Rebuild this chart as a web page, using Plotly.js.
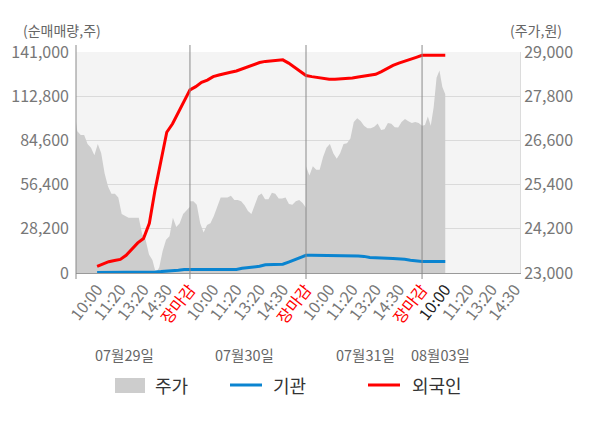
<!DOCTYPE html>
<html><head><meta charset="utf-8">
<script src="https://cdn.plot.ly/plotly-3.0.1.min.js"></script>
<style>html,body{margin:0;padding:0;background:#fff}#chart{width:600px;height:428px}</style>
</head><body><div id="chart"></div>
<script>
// ---- data ----
const dayLabels = ['07월29일', '07월30일', '07월31일', '08월03일'];
const timeLabels = ['10:00', '11:20', '13:20', '14:30', '장마감'];
const lastDayLabels = ['10:00', '11:20', '13:20', '14:30'];

// 주가 (원), evenly sampled through each session
const price0729 = [27500, 26850, 26750, 26750, 26500, 26400, 26200, 26500, 26250, 25700, 25350, 25150, 25150, 25050, 24600, 24550, 24500, 24500, 24500, 24500, 24050, 23900, 23500, 23350, 23000, 23150, 23600, 23900, 24000, 24500, 24250, 24350, 24600, 24700, 24800];
const price0730 = [24950, 24950, 24850, 24350, 24100, 24300, 24350, 24550, 24800, 25050, 25050, 25050, 25100, 24980, 24980, 24950, 24840, 24680, 24600, 24850, 25100, 25160, 25000, 25000, 25180, 25150, 25020, 25020, 25050, 24870, 24850, 24950, 24980, 24900, 24770];
const price0731 = [25900, 25650, 25900, 25800, 25800, 26150, 26400, 26500, 26250, 26100, 26250, 26500, 26520, 26650, 27100, 27200, 27130, 27000, 26930, 26930, 26970, 27060, 26880, 26900, 27070, 27050, 26960, 26950, 27100, 27180, 27120, 27070, 27100, 27070, 27000];
const price0803 = [27000, 27020, 27250, 27000, 27500, 28300, 28500, 28050, 27850];

// 순매매량 (주), every quarter of a label step from 07/29 10:00 to 08/03 10:00
const foreignNet = [4200, 5900, 7200, 8000, 8700, 11300, 15600, 19200, 22000, 31700, 53200, 72600, 89800, 95200, 102700, 110200, 116800,
  118900, 121600, 123100, 125300, 126300, 127000, 128100, 128900, 130200, 131800, 132800, 134300, 135000, 135400, 135600, 136000, 133900, 131100, 128500, 126000,
  125300, 124700, 124200, 123600, 123600, 123800, 124200, 124400, 125100, 125700, 126400, 126800, 128500, 130700, 132400, 133900, 135000, 136000, 137600, 138900,
  138900, 138900, 138900, 138900];
const instNet = [300, 300, 300, 300, 300, 300, 300, 300, 300, 300, 700, 900, 1100, 1400, 1800, 2200, 2400,
  2300, 2300, 2300, 2300, 2300, 2300, 2300, 2300, 3000, 3300, 4000, 4300, 5300, 5500, 5500, 5600, 7000, 8300, 9800, 11300,
  11300, 11300, 11300, 11300, 11300, 11300, 11300, 11300, 10900, 10600, 9900, 9700, 9400, 9400, 9300, 9200, 8700, 8200, 7600, 7400,
  7400, 7400, 7400, 7400];

const volTicks = [0, 28200, 56400, 84600, 112800, 141000];
const priceTicks = [23000, 24200, 25400, 26600, 27800, 29000];

// ---- build ----
const STEPS = 5; // label steps per session
const priceDays = [price0729, price0730, price0731, price0803];
const priceSpans = [5, 5, 5, 1];
const px = [], py = [];
priceDays.forEach((arr, d) => {
  arr.forEach((v, i) => { px.push(d * STEPS + i * priceSpans[d] / (arr.length - 1)); py.push(v); });
});
const netX = foreignNet.map((_, i) => 1 + i * 0.25);

const tickvals = [], ticktext = [];
for (let d = 0; d < 3; d++) {
  timeLabels.forEach((t, i) => {
    tickvals.push(d * STEPS + i + 1);
    ticktext.push(t === '장마감' ? '<span style="color:#ff0000">' + t + '</span>' : t);
  });
}
lastDayLabels.forEach((t, i) => {
  tickvals.push(3 * STEPS + i + 1);
  ticktext.push(i === 0 ? '<span style="color:#222">' + t + '</span>' : t);
});
const fmt = v => v.toLocaleString('en-US');

const W = 600, H = 428, L = 76, R = 80, T = 52, B = 155;
const pw = W - L - R, ph = H - T - B;
const pxX = v => (v - L) / pw;
const pxY = v => (H - B - v) / ph;

const traces = [
  { x: px, y: py, type: 'scatter', mode: 'lines', fill: 'tozeroy', fillcolor: '#cdcdcd', line: { width: 0, color: '#cdcdcd' }, name: '주가', yaxis: 'y', hoverinfo: 'skip' },
  { x: netX, y: instNet, type: 'scatter', mode: 'lines', line: { width: 3, color: '#0a84d0' }, name: '기관', yaxis: 'y2', hoverinfo: 'skip' },
  { x: netX, y: foreignNet, type: 'scatter', mode: 'lines', line: { width: 3, color: '#ff0000' }, name: '외국인', yaxis: 'y2', hoverinfo: 'skip' }
];

const shapes = [];
[0, 1, 2, 3].forEach(k => {
  const base = k === 0 ? { xref: 'paper', x0: 0, x1: 0 } : { xref: 'x', x0: k * STEPS, x1: k * STEPS };
  shapes.push(Object.assign({ type: 'line', yref: 'paper', y0: pxY(279), y1: pxY(45), line: { color: '#8a8a8a', width: 1 }, layer: 'above' }, base));
});
// legend symbols
shapes.push({ type: 'rect', xref: 'paper', yref: 'paper', x0: pxX(115), x1: pxX(145), y0: pxY(393), y1: pxY(378), fillcolor: '#cdcdcd', line: { width: 0 } });
shapes.push({ type: 'line', xref: 'paper', yref: 'paper', x0: pxX(230), x1: pxX(262), y0: pxY(385), y1: pxY(385), line: { color: '#0a84d0', width: 3 } });
shapes.push({ type: 'line', xref: 'paper', yref: 'paper', x0: pxX(368), x1: pxX(400), y0: pxY(385), y1: pxY(385), line: { color: '#ff0000', width: 3 } });

const annotations = [
  { text: '(순매매량,주)', xref: 'paper', yref: 'paper', x: pxX(21), y: pxY(30), xanchor: 'left', yanchor: 'middle', showarrow: false, font: { size: 14, color: '#666' } },
  { text: '(주가,원)', xref: 'paper', yref: 'paper', x: pxX(508), y: pxY(30), xanchor: 'left', yanchor: 'middle', showarrow: false, font: { size: 14, color: '#666' } }
];
const dateLabelX = [2.2, 7.35, 12.55, 15.8];
dayLabels.forEach((t, i) => annotations.push({ text: t, xref: 'x', yref: 'paper', x: dateLabelX[i], y: pxY(354), xanchor: 'center', yanchor: 'middle', showarrow: false, font: { size: 14.5, color: '#666' } }));
[['주가', 153], ['기관', 271], ['외국인', 410]].forEach(([t, x]) => annotations.push({ text: t, xref: 'paper', yref: 'paper', x: pxX(x), y: pxY(385), xanchor: 'left', yanchor: 'middle', showarrow: false, font: { size: 18, color: '#333' } }));

const layout = {
  width: W, height: H,
  margin: { l: L, r: R, t: T, b: B, pad: 0 },
  paper_bgcolor: '#ffffff', plot_bgcolor: '#f4f4f4',
  font: { family: '"Noto Sans CJK KR", "Noto Sans", sans-serif', color: '#666', size: 14 },
  showlegend: false,
  xaxis: { range: [0.09, 19.22], tickmode: 'array', tickvals: tickvals, ticktext: ticktext, tickangle: -52, ticks: '', showgrid: false, zeroline: false, showline: true, linecolor: '#9a9a9a', linewidth: 1, tickfont: { size: 16, color: '#777' }, fixedrange: true },
  yaxis: { range: [23000, 29000], side: 'right', tickmode: 'array', tickvals: priceTicks, ticktext: priceTicks.map(fmt), gridcolor: '#dadada', showline: true, linecolor: '#dcdcdc', zeroline: false, ticks: '', tickfont: { size: 16, color: '#777' }, fixedrange: true },
  yaxis2: { range: [0, 141000], overlaying: 'y', side: 'left', tickmode: 'array', tickvals: volTicks, ticktext: volTicks.map(fmt), showgrid: false, zeroline: false, showline: false, ticks: '', ticklabelstandoff: 6, tickfont: { size: 16, color: '#777' }, fixedrange: true },
  shapes: shapes,
  annotations: annotations
};

Plotly.newPlot('chart', traces, layout, { staticPlot: true, displayModeBar: false });
</script>
</body></html>
